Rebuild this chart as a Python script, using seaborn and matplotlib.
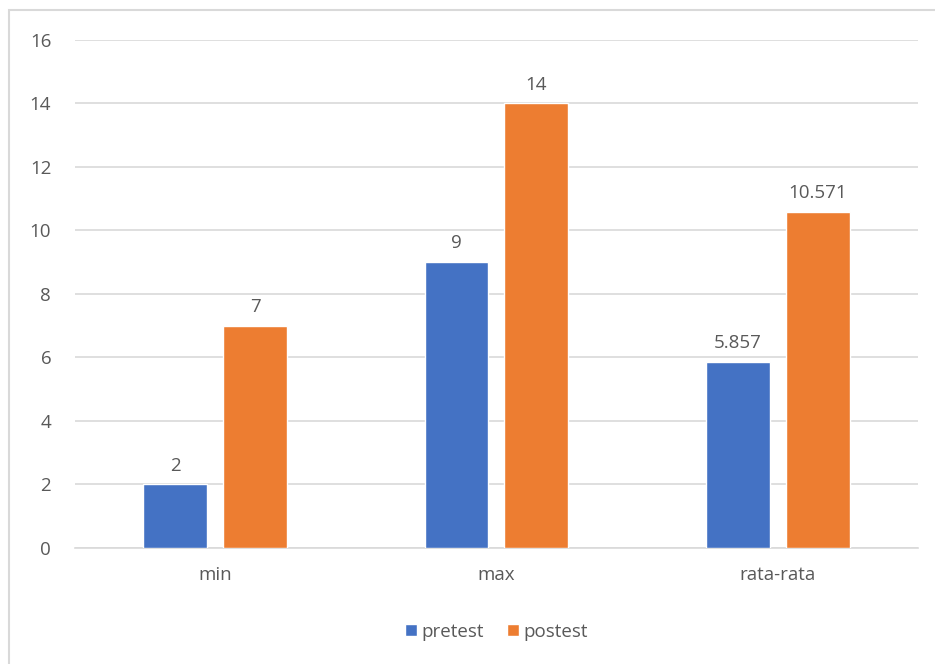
import pandas as pd
import numpy as np
import matplotlib.pyplot as plt
import seaborn as sns
from matplotlib.patches import Rectangle

# data
categories = ['min', 'max', 'rata-rata']
pretest = [2, 9, 5.857]
postest = [7, 14, 10.571]
series_names = ['pretest', 'postest']
value_labels = {'pretest': ['2', '9', '5.857'], 'postest': ['7', '14', '10.571']}

df = pd.DataFrame({
    'kategori': categories * 2,
    'nilai': pretest + postest,
    'seri': [series_names[0]] * 3 + [series_names[1]] * 3,
})

sns.set_style('white')
plt.rcParams['font.family'] = ['Open Sans', 'DejaVu Sans']
text_col = '#595959'
fs = 13.5

fig = plt.figure(figsize=(9.35, 6.64), dpi=100)
ax = fig.add_axes([0.080, 0.175, 0.902, 0.765])

sns.barplot(data=df, x='kategori', y='nilai', hue='seri', order=categories,
            hue_order=series_names, palette=['#4472c4', '#ed7d31'],
            width=0.569, gap=0.2, saturation=1, ax=ax, zorder=3)

# labels above bars
for cont, name in zip(ax.containers, series_names):
    ax.bar_label(cont, labels=value_labels[name], padding=7, fontsize=fs, color=text_col)

ax.set_xlim(-0.5, 2.5)
ax.set_ylim(0, 16)
ax.set_yticks(range(0, 17, 2))
ax.yaxis.grid(True, color='#d9d9d9', linewidth=1.2, zorder=0)
ax.set_axisbelow(True)
for s in ['top', 'right', 'left']:
    ax.spines[s].set_visible(False)
ax.spines['bottom'].set_color('#d9d9d9')
ax.spines['bottom'].set_linewidth(1.2)
ax.tick_params(axis='both', length=0, labelsize=fs, labelcolor=text_col)
ax.tick_params(axis='x', pad=13)
ax.tick_params(axis='y', pad=17)
ax.set_xlabel('')
ax.set_ylabel('')

ax.legend(loc='center', bbox_to_anchor=(0.5, -0.165), ncol=2, frameon=False,
          fontsize=fs, labelcolor=text_col, handlelength=0.65, handleheight=0.65,
          handletextpad=0.25, columnspacing=1.2)

# light outer border of the chart area
fig.patches.append(Rectangle((9 / 935, -0.05), 1.0, (664 - 10) / 664 + 0.05,
                             transform=fig.transFigure, fill=False,
                             edgecolor='#d9d9d9', linewidth=1.5))

fig.savefig('out.png', dpi=100)
